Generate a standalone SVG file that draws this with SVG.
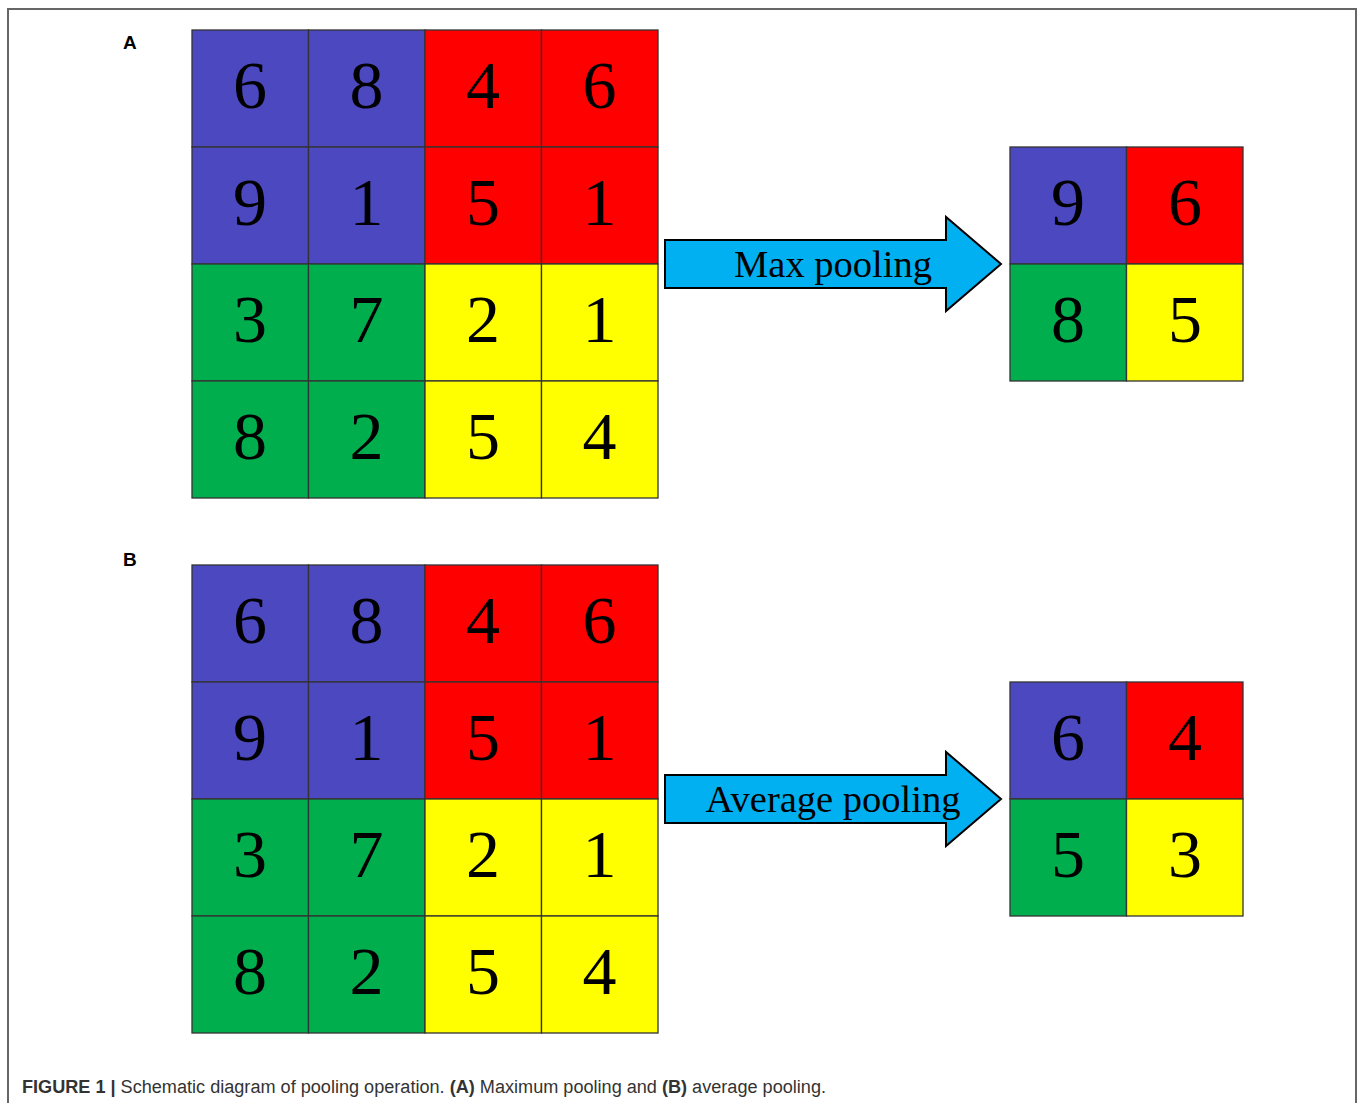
<svg xmlns="http://www.w3.org/2000/svg" width="1358" height="1103" viewBox="0 0 1358 1103">
<style>
.b{fill:#4B48C0}.r{fill:#FF0000}.g{fill:#00AE4E}.y{fill:#FFFF00}
.cell rect{stroke:#333;stroke-width:1.3}
.n{font-family:"Liberation Serif",serif;font-size:68px;text-anchor:middle;fill:#000}
.lab{font-family:"Liberation Sans",Arial,sans-serif;font-weight:bold;font-size:19px;fill:#000}
.arrow{fill:#00B0F0;stroke:#000;stroke-width:2;stroke-linejoin:miter}
.at{font-family:"Liberation Serif",serif;font-size:38.5px;text-anchor:middle;fill:#000}
.cap{font-family:"Liberation Sans",Arial,sans-serif;font-size:18px;fill:#333}
</style>
<rect x="0" y="0" width="1358" height="1103" fill="#fff"/>
<path d="M8 1103 V9 H1356 V1103" fill="none" stroke="#666" stroke-width="2"/>
<text class="lab" x="123" y="49">A</text>
<text class="lab" x="123" y="566">B</text>
<g id="gridA" class="cell">
<rect class="b" x="192" y="30" width="116.5" height="117"/>
<rect class="b" x="308.5" y="30" width="116.5" height="117"/>
<rect class="r" x="425" y="30" width="116.5" height="117"/>
<rect class="r" x="541.5" y="30" width="116.5" height="117"/>
<rect class="b" x="192" y="147" width="116.5" height="117"/>
<rect class="b" x="308.5" y="147" width="116.5" height="117"/>
<rect class="r" x="425" y="147" width="116.5" height="117"/>
<rect class="r" x="541.5" y="147" width="116.5" height="117"/>
<rect class="g" x="192" y="264" width="116.5" height="117"/>
<rect class="g" x="308.5" y="264" width="116.5" height="117"/>
<rect class="y" x="425" y="264" width="116.5" height="117"/>
<rect class="y" x="541.5" y="264" width="116.5" height="117"/>
<rect class="g" x="192" y="381" width="116.5" height="117"/>
<rect class="g" x="308.5" y="381" width="116.5" height="117"/>
<rect class="y" x="425" y="381" width="116.5" height="117"/>
<rect class="y" x="541.5" y="381" width="116.5" height="117"/>
<text class="n" x="250" y="108">6</text><text class="n" x="366.5" y="108">8</text><text class="n" x="483" y="108">4</text><text class="n" x="599.5" y="108">6</text>
<text class="n" x="250" y="225">9</text><text class="n" x="366.5" y="225">1</text><text class="n" x="483" y="225">5</text><text class="n" x="599.5" y="225">1</text>
<text class="n" x="250" y="342">3</text><text class="n" x="366.5" y="342">7</text><text class="n" x="483" y="342">2</text><text class="n" x="599.5" y="342">1</text>
<text class="n" x="250" y="459">8</text><text class="n" x="366.5" y="459">2</text><text class="n" x="483" y="459">5</text><text class="n" x="599.5" y="459">4</text>
</g>
<g id="gridB" class="cell">
<rect class="b" x="192" y="565" width="116.5" height="117"/>
<rect class="b" x="308.5" y="565" width="116.5" height="117"/>
<rect class="r" x="425" y="565" width="116.5" height="117"/>
<rect class="r" x="541.5" y="565" width="116.5" height="117"/>
<rect class="b" x="192" y="682" width="116.5" height="117"/>
<rect class="b" x="308.5" y="682" width="116.5" height="117"/>
<rect class="r" x="425" y="682" width="116.5" height="117"/>
<rect class="r" x="541.5" y="682" width="116.5" height="117"/>
<rect class="g" x="192" y="799" width="116.5" height="117"/>
<rect class="g" x="308.5" y="799" width="116.5" height="117"/>
<rect class="y" x="425" y="799" width="116.5" height="117"/>
<rect class="y" x="541.5" y="799" width="116.5" height="117"/>
<rect class="g" x="192" y="916" width="116.5" height="117"/>
<rect class="g" x="308.5" y="916" width="116.5" height="117"/>
<rect class="y" x="425" y="916" width="116.5" height="117"/>
<rect class="y" x="541.5" y="916" width="116.5" height="117"/>
<text class="n" x="250" y="643">6</text><text class="n" x="366.5" y="643">8</text><text class="n" x="483" y="643">4</text><text class="n" x="599.5" y="643">6</text>
<text class="n" x="250" y="760">9</text><text class="n" x="366.5" y="760">1</text><text class="n" x="483" y="760">5</text><text class="n" x="599.5" y="760">1</text>
<text class="n" x="250" y="877">3</text><text class="n" x="366.5" y="877">7</text><text class="n" x="483" y="877">2</text><text class="n" x="599.5" y="877">1</text>
<text class="n" x="250" y="994">8</text><text class="n" x="366.5" y="994">2</text><text class="n" x="483" y="994">5</text><text class="n" x="599.5" y="994">4</text>
</g>
<g id="outA" class="cell">
<rect class="b" x="1010" y="147" width="116.5" height="117"/>
<rect class="r" x="1126.5" y="147" width="116.5" height="117"/>
<rect class="g" x="1010" y="264" width="116.5" height="117"/>
<rect class="y" x="1126.5" y="264" width="116.5" height="117"/>
<text class="n" x="1068" y="225">9</text><text class="n" x="1185" y="225">6</text>
<text class="n" x="1068" y="342">8</text><text class="n" x="1185" y="342">5</text>
</g>
<g id="outB" class="cell">
<rect class="b" x="1010" y="682" width="116.5" height="117"/>
<rect class="r" x="1126.5" y="682" width="116.5" height="117"/>
<rect class="g" x="1010" y="799" width="116.5" height="117"/>
<rect class="y" x="1126.5" y="799" width="116.5" height="117"/>
<text class="n" x="1068" y="760">6</text><text class="n" x="1185" y="760">4</text>
<text class="n" x="1068" y="877">5</text><text class="n" x="1185" y="877">3</text>
</g>
<g id="connectors">
<g id="arrowA">
<path class="arrow" d="M665 240 H946 V217 L1001 264 L946 311 V288 H665 Z"/>
<text class="at" x="833" y="277">Max pooling</text>
</g>
<g id="arrowB">
<path class="arrow" d="M665 775 H946 V752 L1001 799 L946 846 V823 H665 Z"/>
<text class="at" x="833" y="812">Average pooling</text>
</g>
</g>
<text class="cap" x="22" y="1093" textLength="804" lengthAdjust="spacingAndGlyphs"><tspan font-weight="bold">FIGURE 1 |</tspan> Schematic diagram of pooling operation. <tspan font-weight="bold">(A)</tspan> Maximum pooling and <tspan font-weight="bold">(B)</tspan> average pooling.</text>
</svg>
